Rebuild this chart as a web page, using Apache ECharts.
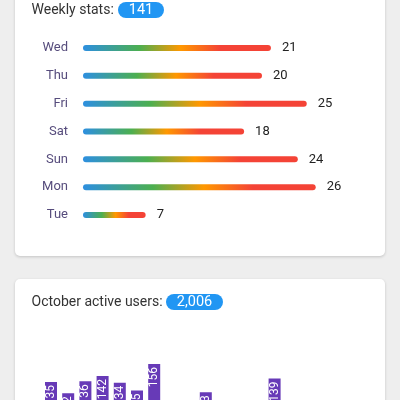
<!DOCTYPE html>
<html>
<head>
<meta charset="utf-8">
<script src="https://cdn.jsdelivr.net/npm/echarts@6/dist/echarts.min.js"></script>
<style>
html,body{margin:0;padding:0;background:#eeeeee;overflow:hidden;height:400px;}
#c{width:400px;height:520px;}
</style>
</head>
<body>
<div id="c"></div>
<script>
var weekDays = ['Wed', 'Thu', 'Fri', 'Sat', 'Sun', 'Mon', 'Tue'];
var weekValues = [21, 20, 25, 18, 24, 26, 7];
var weeklyTotal = '141';
var octDays = ['1','2','3','4','5','6','7','8','9','10','11','12','13','14','15','16','17','18','19'];
var octValues = [135, 122, 136, 142, 134, 125, 156, 96, 88, 123, 72, 64, 81, 139, 90, 75, 68, 84, 76];
var octTotal = '2,006';

var chart = echarts.init(document.getElementById('c'), null, {renderer: 'canvas'});
var FONT = 'Roboto';

var grad = new echarts.graphic.LinearGradient(0, 0, 1, 0, [
  {offset: 0, color: '#2d8fe0'},
  {offset: 0.3, color: '#4caf50'},
  {offset: 0.52, color: '#ff9800'},
  {offset: 0.73, color: '#f44336'},
  {offset: 1, color: '#f44336'}
]);

chart.setOption({
  backgroundColor: '#eeeeee',
  animation: false,
  graphic: [
    {type: 'rect', shape: {x: 15, y: -10, width: 370, height: 266, r: 5}, style: {fill: '#ffffff', shadowBlur: 3, shadowColor: 'rgba(0,0,0,0.18)', shadowOffsetY: 1}, z: -10},
    {type: 'rect', shape: {x: 15, y: 279, width: 370, height: 240, r: 5}, style: {fill: '#ffffff', shadowBlur: 3, shadowColor: 'rgba(0,0,0,0.18)', shadowOffsetY: 1}, z: -10},
    {type: 'text', x: 31.5, y: 10, style: {text: 'Weekly stats:', fill: '#333333', font: '14px ' + FONT, verticalAlign: 'middle'}},
    {type: 'rect', shape: {x: 118, y: 2, width: 46, height: 16, r: 8}, style: {fill: '#2196f3'}},
    {type: 'text', x: 141, y: 10, style: {text: weeklyTotal, fill: '#ffffff', font: '14.5px ' + FONT, align: 'center', verticalAlign: 'middle'}},
    {type: 'text', x: 31.5, y: 302, style: {text: 'October active users:', fill: '#333333', font: '14px ' + FONT, verticalAlign: 'middle'}},
    {type: 'rect', shape: {x: 166, y: 294, width: 57, height: 16, r: 8}, style: {fill: '#2196f3'}},
    {type: 'text', x: 194.5, y: 302, style: {text: octTotal, fill: '#ffffff', font: '14.5px ' + FONT, align: 'center', verticalAlign: 'middle'}}
  ],
  grid: [
    {left: 83, top: 34, width: 268.5, height: 195},
    {left: 42.4, top: 326.3, width: 326.8, height: 171.4}
  ],
  xAxis: [
    {gridIndex: 0, type: 'value', min: 0, max: 30, show: false},
    {gridIndex: 1, type: 'category', data: octDays, show: false}
  ],
  yAxis: [
    {gridIndex: 0, type: 'category', data: weekDays, inverse: true,
     axisLine: {show: false}, axisTick: {show: false},
     axisLabel: {margin: 15, color: '#564c7c', fontSize: 13, fontFamily: FONT}},
    {gridIndex: 1, type: 'value', min: 0, max: 200, show: false}
  ],
  series: [
    {type: 'bar', xAxisIndex: 0, yAxisIndex: 0, data: weekValues, barWidth: 6,
     itemStyle: {color: grad, borderRadius: 3},
     label: {show: true, position: 'right', distance: 11, color: '#222222', fontSize: 13, fontFamily: FONT}},
    {type: 'bar', xAxisIndex: 1, yAxisIndex: 1, data: octValues, barWidth: 12,
     itemStyle: {color: '#673ab7'},
     label: {show: true, position: 'insideTop', rotate: 90, align: 'right', verticalAlign: 'middle', distance: 3, color: '#ffffff', fontSize: 12, fontFamily: FONT}}
  ]
});
</script>
</body>
</html>
